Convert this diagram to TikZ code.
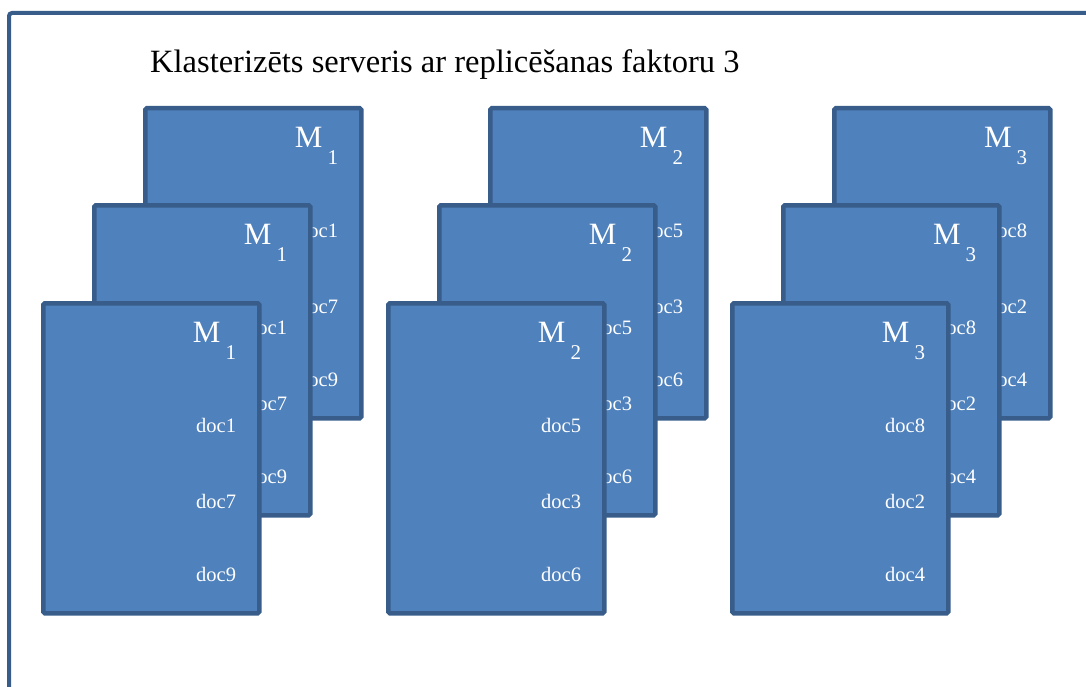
\documentclass[tikz,border=0pt]{standalone}
\usepackage{fontspec}
\setmainfont{Liberation Serif}
\usetikzlibrary{calc}
\definecolor{cardfill}{HTML}{4F81BD}
\definecolor{cardline}{HTML}{385D8A}
\begin{document}
\begin{tikzpicture}[x=1pt,y=-1pt,
  card/.style={draw=cardline, line width=4.5pt, fill=cardfill, rounded corners=1.5pt,
    minimum width=216pt, minimum height=310pt, inner sep=0pt, outer sep=0pt, anchor=north west},
  mlabel/.style={text=white, font=\fontsize{31}{31}\selectfont, anchor=base east, inner sep=0pt},
  doclabel/.style={text=white, font=\fontsize{20.5}{20.5}\selectfont, anchor=base east, inner sep=0pt},
  frameline/.style={draw=cardline, line width=4pt, rounded corners=3pt}]
  \clip (0,0) rectangle (1086,687);
  % outer frame (continues past the right and bottom edges)
  \draw[frameline] (9,13) rectangle (1140,740);
  \node[anchor=base west, inner sep=0pt, font=\fontsize{32.5}{32.5}\selectfont] (title) at (150,73)
    {Klasterizēts serveris ar replicēšanas faktoru 3};
  % three stacks of replica cards
  \foreach \gx/\g/\da/\db/\dc in {41/1/doc1/doc7/doc9, 386/2/doc5/doc3/doc6, 730/3/doc8/doc2/doc4} {
    \foreach \dx/\dy/\layer in {102/-195/back, 51/-98/mid, 0/0/front} {
      \node[card] (m\g\layer) at (\gx+\dx+2.25, 301+\dy+2.25) {};
      \node[mlabel] (m\g\layer t) at ($(m\g\layer.north east)+(-23,39)$)
        {M\hspace{5pt}\raisebox{-17pt}{\fontsize{21}{21}\selectfont \g}};
      \node[doclabel] (m\g\layer a) at ($(m\g\layer.north east)+(-23,129)$) {\da};
      \node[doclabel] (m\g\layer b) at ($(m\g\layer.north east)+(-23,205)$) {\db};
      \node[doclabel] (m\g\layer c) at ($(m\g\layer.north east)+(-23,278)$) {\dc};
    }
  }
\end{tikzpicture}
\end{document}
